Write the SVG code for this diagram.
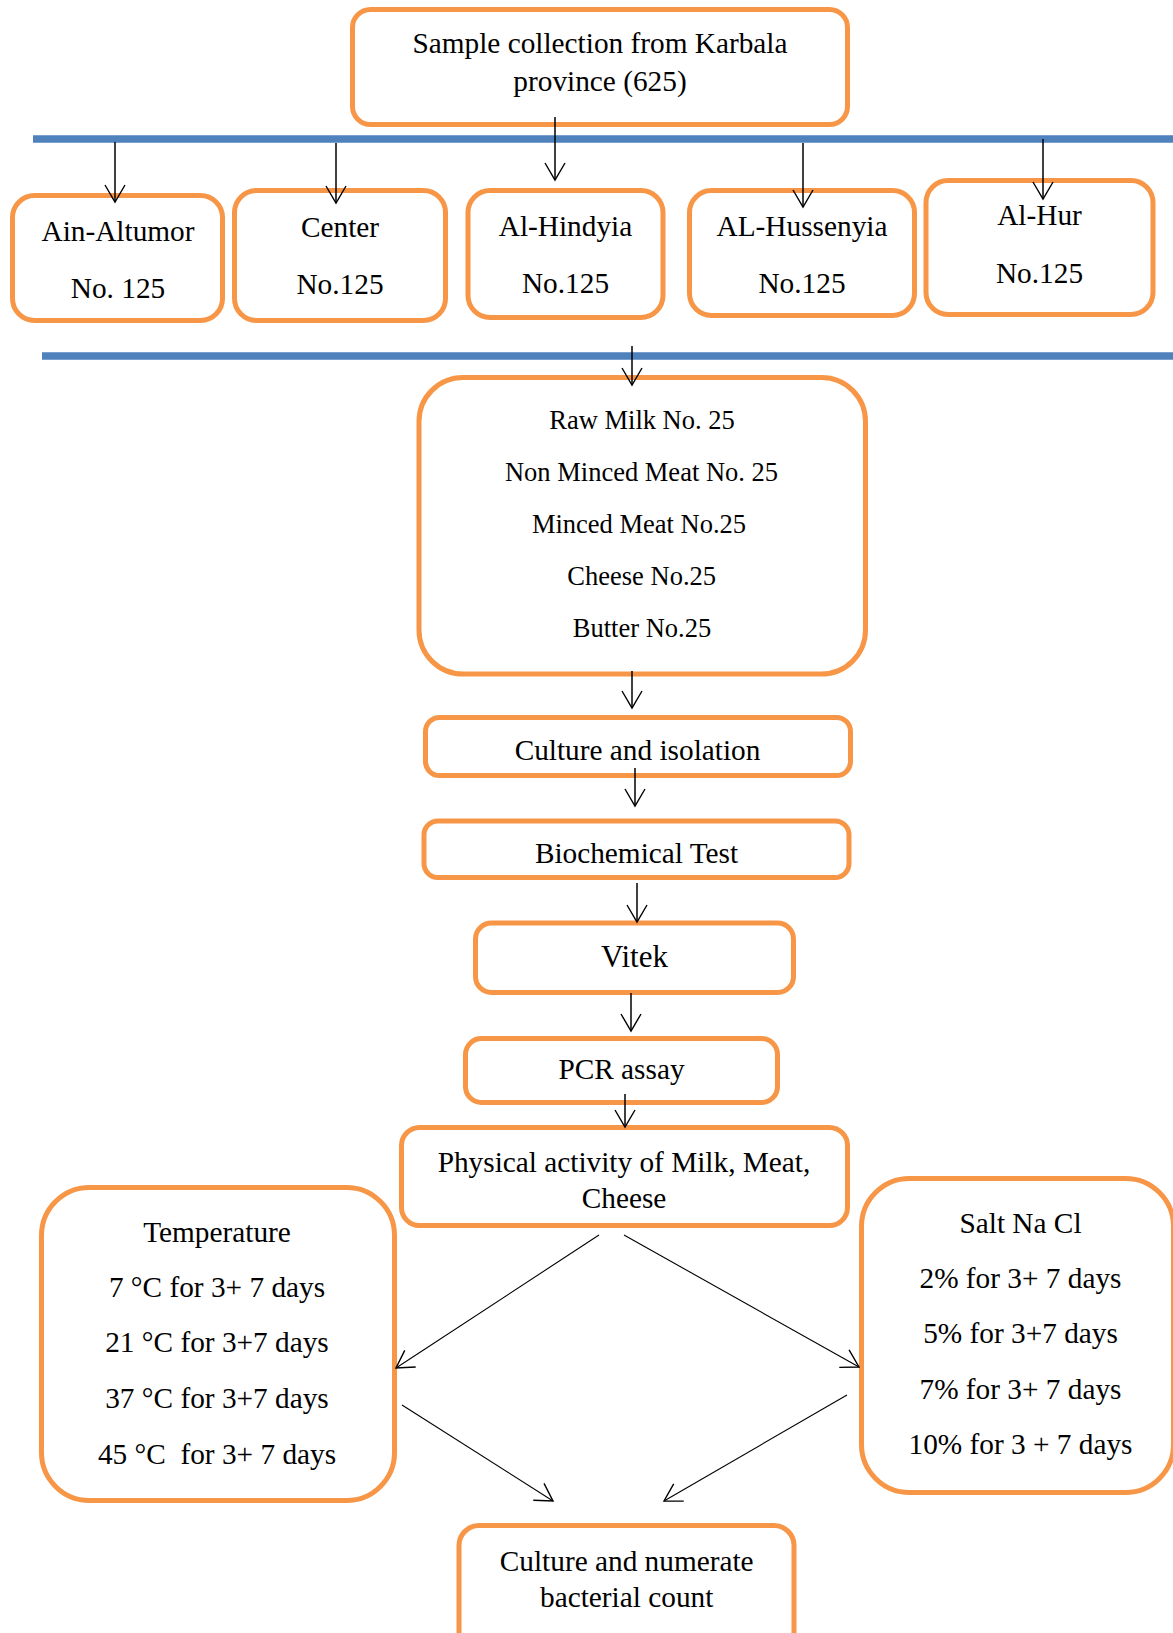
<svg xmlns="http://www.w3.org/2000/svg" width="1173" height="1633" viewBox="0 0 1173 1633">
<defs>
<style>
.box{fill:#fff;stroke:#F79646;stroke-width:5}
.bar{stroke:#4F81BD;stroke-width:7.5}
.t{font-family:"Liberation Serif","Times New Roman",serif;font-size:29.3px;fill:#000;text-anchor:middle}
.s{font-size:26.5px}
.v{font-size:31px}
.c{stroke:#000;stroke-width:1.5;fill:none}
.d{stroke:#000;stroke-width:1.1;fill:none}
</style>
<marker id="ah" markerUnits="userSpaceOnUse" markerWidth="24" markerHeight="24" refX="0" refY="0" viewBox="-20 -12 22 24" orient="auto" overflow="visible">
<path d="M-17,-10 L0,0 L-17,10" fill="none" stroke="#000" stroke-width="1.4"/>
</marker>
</defs>
<rect width="1173" height="1633" fill="#fff"/>
<g id="bars">
<line class="bar" x1="33" y1="139" x2="1173" y2="139"/>
<line class="bar" x1="42" y1="356" x2="1173" y2="356"/>
</g>
<g id="n-sample">
<rect class="box" x="352.5" y="9.5" width="495" height="115" rx="18"/>
<text class="t" x="600" y="53">Sample collection from Karbala</text>
<text class="t" x="600" y="91">province (625)</text>
</g>
<g id="n-ain">
<rect class="box" x="12.5" y="195.5" width="210" height="125" rx="22"/>
<text class="t" x="118" y="240.7">Ain-Altumor</text>
<text class="t" x="118" y="298">No. 125</text>
</g>
<g id="n-center">
<rect class="box" x="234.5" y="190.5" width="211" height="130" rx="22"/>
<text class="t" x="340" y="237">Center</text>
<text class="t" x="340" y="294">No.125</text>
</g>
<g id="n-hindyia">
<rect class="box" x="468" y="190.5" width="195" height="127" rx="22"/>
<text class="t" x="565.5" y="236">Al-Hindyia</text>
<text class="t" x="565.5" y="293">No.125</text>
</g>
<g id="n-hussenyia">
<rect class="box" x="689.5" y="190.5" width="225" height="125" rx="22"/>
<text class="t" x="802" y="236">AL-Hussenyia</text>
<text class="t" x="802" y="293">No.125</text>
</g>
<g id="n-hur">
<rect class="box" x="926" y="180.5" width="227" height="134" rx="22"/>
<text class="t" x="1039.5" y="225">Al-Hur</text>
<text class="t" x="1039.5" y="283">No.125</text>
</g>
<g id="n-samples">
<rect class="box" x="419" y="377.5" width="446.5" height="296.5" rx="44"/>
<text class="t s" x="642" y="429.3">Raw Milk No. 25</text>
<text class="t s" x="641.5" y="480.7">Non Minced Meat No. 25</text>
<text class="t s" x="639" y="532.7">Minced Meat No.25</text>
<text class="t s" x="641.7" y="585">Cheese No.25</text>
<text class="t s" x="642" y="636.7">Butter No.25</text>
</g>
<g id="n-culture">
<rect class="box" x="425.5" y="717.5" width="425" height="58" rx="14"/>
<text class="t" x="637.5" y="760">Culture and isolation</text>
</g>
<g id="n-bio">
<rect class="box" x="424" y="821" width="425" height="56.5" rx="14"/>
<text class="t" x="636.5" y="862.7">Biochemical Test</text>
</g>
<g id="n-vitek">
<rect class="box" x="475.5" y="923" width="318" height="69.5" rx="16"/>
<text class="t v" x="634.5" y="966.7">Vitek</text>
</g>
<g id="n-pcr">
<rect class="box" x="465.5" y="1038.5" width="312" height="64" rx="16"/>
<text class="t" x="621.5" y="1079">PCR assay</text>
</g>
<g id="n-physical">
<rect class="box" x="401.5" y="1127.5" width="446" height="98" rx="18"/>
<text class="t" x="624" y="1171.7">Physical activity of Milk, Meat,</text>
<text class="t" x="624" y="1207.7">Cheese</text>
</g>
<g id="n-temperature">
<rect class="box" x="41.5" y="1187.5" width="353" height="313" rx="48"/>
<text class="t" x="217" y="1241.7">Temperature</text>
<text class="t" x="217" y="1297.3">7 °C for 3+ 7 days</text>
<text class="t" x="217" y="1352.3">21 °C for 3+7 days</text>
<text class="t" x="217" y="1408.3">37 °C for 3+7 days</text>
<text class="t" x="217" y="1464" xml:space="preserve">45 °C  for 3+ 7 days</text>
</g>
<g id="n-salt">
<rect class="box" x="861.5" y="1178.5" width="312" height="314" rx="48"/>
<text class="t" x="1020.5" y="1233.3">Salt Na Cl</text>
<text class="t" x="1020.5" y="1288.3">2% for 3+ 7 days</text>
<text class="t" x="1020.5" y="1343.3">5% for 3+7 days</text>
<text class="t" x="1020.5" y="1399.3">7% for 3+ 7 days</text>
<text class="t" x="1020.5" y="1454">10% for 3 + 7 days</text>
</g>
<g id="n-count">
<rect class="box" x="459" y="1525.5" width="335" height="130" rx="20"/>
<text class="t" x="626.7" y="1570.7">Culture and numerate</text>
<text class="t" x="626.7" y="1606.7">bacterial count</text>
</g>
<g id="connectors">
<line class="c" x1="555" y1="117" x2="555" y2="180" marker-end="url(#ah)"/>
<line class="c" x1="115" y1="142" x2="115" y2="202" marker-end="url(#ah)"/>
<line class="c" x1="336" y1="143" x2="336" y2="203" marker-end="url(#ah)"/>
<line class="c" x1="803" y1="143" x2="803" y2="207" marker-end="url(#ah)"/>
<line class="c" x1="1043" y1="139" x2="1043" y2="199" marker-end="url(#ah)"/>
<line class="c" x1="632" y1="346" x2="632" y2="385" marker-end="url(#ah)"/>
<line class="c" x1="632" y1="671" x2="632" y2="708" marker-end="url(#ah)"/>
<line class="c" x1="635" y1="768" x2="635" y2="806" marker-end="url(#ah)"/>
<line class="c" x1="637" y1="883" x2="637" y2="922" marker-end="url(#ah)"/>
<line class="c" x1="631" y1="993" x2="631" y2="1031" marker-end="url(#ah)"/>
<line class="c" x1="625" y1="1094" x2="625" y2="1127" marker-end="url(#ah)"/>
<line class="d" x1="599" y1="1235" x2="396" y2="1368" marker-end="url(#ah)"/>
<line class="d" x1="624" y1="1235" x2="859" y2="1367" marker-end="url(#ah)"/>
<line class="d" x1="402" y1="1405" x2="553" y2="1501" marker-end="url(#ah)"/>
<line class="d" x1="847" y1="1395" x2="664" y2="1501" marker-end="url(#ah)"/>
</g>
</svg>
